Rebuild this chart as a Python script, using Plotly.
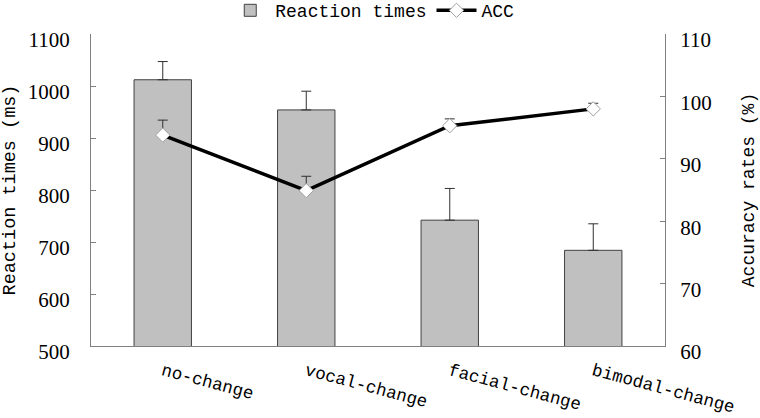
import plotly.graph_objects as go

categories = ["no-change", "vocal-change", "facial-change", "bimodal-change"]
rt_values = [1012, 954, 742, 684]
rt_errors = [35, 36, 61, 51]
acc_values = [93.8, 84.9, 95.3, 98.0]
acc_errors = [2.4, 2.3, 1.1, 0.9]

mono = "Liberation Mono"
serif = "Liberation Serif"

fig = go.Figure()
fig.add_trace(go.Bar(
    x=categories, y=rt_values, name="Reaction times",
    marker=dict(color="#c0c0c0", line=dict(color="#404040", width=1)),
    width=0.4,
    error_y=dict(type="data", array=rt_errors, arrayminus=[0]*4, symmetric=False,
                 color="#303030", thickness=1, width=5),
    yaxis="y",
))
fig.add_trace(go.Scatter(
    x=categories, y=acc_values, name="ACC", mode="lines+markers",
    line=dict(color="black", width=3.5),
    marker=dict(symbol="diamond", size=11, color="white", line=dict(color="#a0a0a0", width=1)),
    error_y=dict(type="data", array=acc_errors, arrayminus=[0]*4, symmetric=False,
                 color="#303030", thickness=1, width=5),
    yaxis="y2",
))

fig.update_layout(
    width=760, height=418,
    margin=dict(l=91, r=95, t=34, b=72, autoexpand=False),
    paper_bgcolor="white", plot_bgcolor="white",
    showlegend=True,
    legend=dict(orientation="h", x=0.49, xanchor="center", y=1.075, yanchor="middle", yref="paper",
                font=dict(family=mono, size=18, color="black"), bgcolor="rgba(0,0,0,0)",
                itemwidth=40, tracegroupgap=0),
    bargap=0.6,
    xaxis=dict(showline=True, linecolor="#808080", linewidth=1, ticks="", showgrid=False,
               tickangle=15, ticklabelstandoff=7,
               tickfont=dict(family=mono, size=17.5, color="black")),
    yaxis=dict(range=[500, 1100], dtick=100, showline=True, linecolor="#808080", linewidth=1,
               ticks="inside", ticklen=5, tickcolor="#808080", showgrid=False, zeroline=False,
               ticklabelstandoff=16, ticklabelshift=6,
               tickfont=dict(family=serif, size=21, color="black"),
               title=dict(text="Reaction times (ms)", font=dict(family=mono, size=18.5, color="black"), standoff=8)),
    yaxis2=dict(range=[60, 110], dtick=10, overlaying="y", side="right", showline=True,
                linecolor="#808080", linewidth=1, ticks="inside", ticklen=5, tickcolor="#808080",
                showgrid=False, zeroline=False,
                ticklabelstandoff=10, ticklabelshift=6,
                tickfont=dict(family=serif, size=21, color="black"),
                title=dict(text="Accuracy rates (%)", font=dict(family=mono, size=18, color="black"), standoff=30)),
)

fig.write_html("out.html", config={"displayModeBar": False},
               post_script="document.body.style.margin='0';document.body.style.padding='0';")
